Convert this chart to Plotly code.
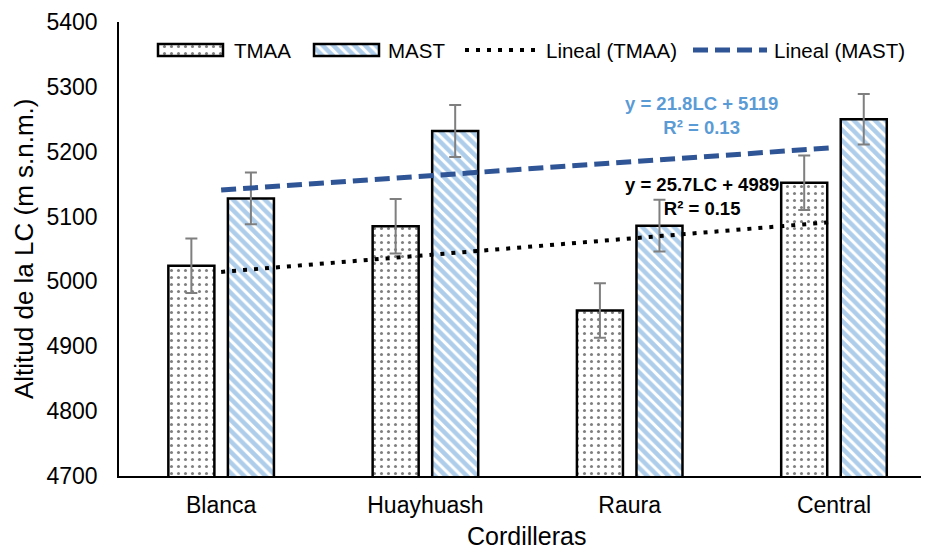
import plotly.graph_objects as go

# Data
categories = ["Blanca", "Huayhuash", "Raura", "Central"]
tmaa = [5024, 5085, 4955, 5152]
mast = [5128, 5232, 5086, 5250]
tmaa_err = [42, 42, 42, 42]
mast_err = [40, 40, 40, 39]
# Linear trend per series: slope, intercept, R²  (x = 1..n over cordilleras)
trend_tmaa = [25.7, 4989, 0.15]
trend_mast = [21.8, 5119, 0.13]
y_ticks = [4700, 4800, 4900, 5000, 5100, 5200, 5300, 5400]

FONT = "Liberation Sans, Arial, sans-serif"
BLUE = "#5B9BD5"
DARK_BLUE = "#2F5597"

def trend_values(coefs, n):
    slope, intercept, _ = coefs
    return [slope * (i + 1) + intercept for i in range(n)]

def equation(coefs):
    slope, intercept, r2 = coefs
    return f"<b>y = {slope}LC + {intercept}<br>R² = {r2:.2f}</b>"

tmaa_marker = dict(color="white", line=dict(color="black", width=2.5),
                   pattern=dict(shape=".", fgcolor="black", bgcolor="white",
                                size=7, solidity=0.15))
mast_marker = dict(color="white", line=dict(color="black", width=2.5),
                   pattern=dict(shape="\\", fgcolor=BLUE, bgcolor="white",
                                size=7.5, solidity=0.6))
dot_line = dict(color="black", width=4, dash="4px,7px")
dash_line = dict(color=DARK_BLUE, width=5, dash="15px,7px")

fig = go.Figure()
fig.add_trace(go.Bar(x=categories, y=tmaa, name="TMAA", marker=tmaa_marker,
                     error_y=dict(type="data", array=tmaa_err, color="#7F7F7F",
                                  thickness=2, width=6)))
fig.add_trace(go.Bar(x=categories, y=mast, name="MAST", marker=mast_marker,
                     error_y=dict(type="data", array=mast_err, color="#7F7F7F",
                                  thickness=2, width=6)))
fig.add_trace(go.Scatter(x=categories, y=trend_values(trend_tmaa, len(categories)),
                         mode="lines", name="Lineal (TMAA)", line=dot_line))
fig.add_trace(go.Scatter(x=categories, y=trend_values(trend_mast, len(categories)),
                         mode="lines", name="Lineal (MAST)", line=dash_line))

# Legend drawn on an overlay axis measured in pixels of the plot area
fig.add_trace(go.Bar(x=[190.5], y=[12], base=[44], width=[65], offset=-32.5,
                     marker=tmaa_marker, xaxis="x2", yaxis="y2", showlegend=False,
                     hoverinfo="skip"))
fig.add_trace(go.Bar(x=[346.5], y=[12], base=[44], width=[65], offset=-32.5,
                     marker=mast_marker, xaxis="x2", yaxis="y2", showlegend=False,
                     hoverinfo="skip"))
fig.add_trace(go.Scatter(x=[465, 538], y=[50, 50], mode="lines", line=dot_line,
                         xaxis="x2", yaxis="y2", showlegend=False, hoverinfo="skip"))
fig.add_trace(go.Scatter(x=[693, 767], y=[50, 50], mode="lines", line=dash_line,
                         xaxis="x2", yaxis="y2", showlegend=False, hoverinfo="skip"))

legend_labels = [("TMAA", 232), ("MAST", 386), ("Lineal (TMAA)", 544), ("Lineal (MAST)", 772)]
for text, xpos in legend_labels:
    fig.add_annotation(x=xpos, y=50, xref="x2", yref="y2", text=text, showarrow=False,
                       xanchor="left", yanchor="middle",
                       font=dict(family=FONT, size=20.5, color="black"))

fig.add_annotation(x=701, y=115, xref="x2", yref="y2", text=equation(trend_mast),
                   showarrow=False, align="center", xanchor="center", yanchor="middle",
                   font=dict(family=FONT, size=18.5, color=BLUE))
fig.add_annotation(x=702, y=196, xref="x2", yref="y2", text=equation(trend_tmaa),
                   showarrow=False, align="center", xanchor="center", yanchor="middle",
                   font=dict(family=FONT, size=18.5, color="black"))

# Axis titles (paper coordinates, outside the plot area)
fig.add_annotation(x=-0.1185, y=0.502, xref="paper", yref="paper",
                   text="Altitud de la LC (m s.n.m.)", textangle=-90, showarrow=False,
                   xanchor="center", yanchor="middle",
                   font=dict(family=FONT, size=26, color="black"))
fig.add_annotation(x=0.508, y=-0.1652, xref="paper", yref="paper", text="Cordilleras",
                   showarrow=False, xanchor="center", yanchor="bottom", borderpad=0,
                   font=dict(family=FONT, size=25, color="black"))

fig.update_layout(
    width=926, height=552,
    margin=dict(l=119, r=5, t=22, b=76),
    paper_bgcolor="white", plot_bgcolor="white",
    barmode="group", bargap=0.417, bargroupgap=0.227,
    showlegend=False,
    font=dict(family=FONT, size=23, color="black"),
    xaxis=dict(type="category", range=[-0.5, 3.426], showline=True, linecolor="black",
               linewidth=1.5, ticks="", showgrid=False, ticklabelstandoff=8,
               tickfont=dict(family=FONT, size=23, color="black")),
    yaxis=dict(range=[4700, 5400], tickvals=y_ticks, showline=True, linecolor="black",
               linewidth=1.5, ticks="", showgrid=False, zeroline=False, ticklabelstandoff=15,
               tickfont=dict(family=FONT, size=23, color="black")),
    xaxis2=dict(overlaying="x", anchor="y2", range=[119, 921], visible=False),
    yaxis2=dict(overlaying="y", anchor="x2", range=[476, 22], visible=False),
)

fig.write_html("out.html")
